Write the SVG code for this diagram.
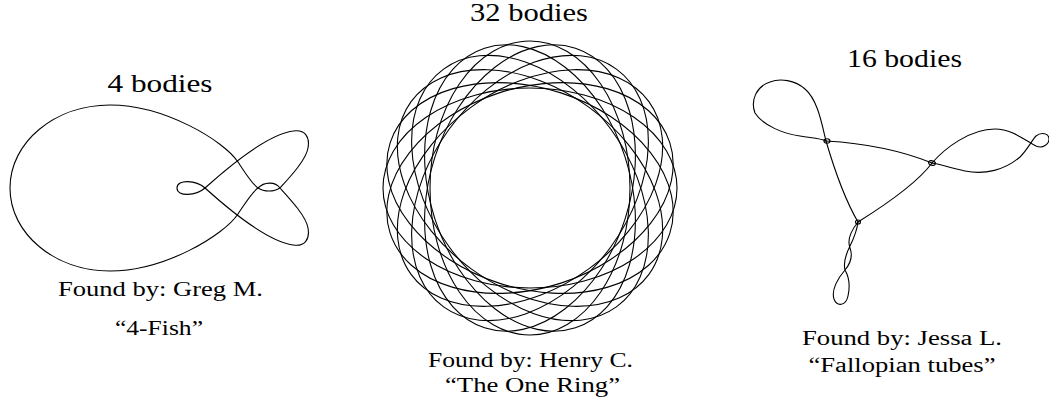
<svg xmlns="http://www.w3.org/2000/svg" width="1049" height="406" viewBox="0 0 1049 406">
<style>
.c{fill:none;stroke:#000;stroke-width:1.1;stroke-linejoin:round;stroke-linecap:round}
.t{font-family:"Liberation Serif","Times New Roman",serif;fill:#000;text-anchor:middle}
.h{font-size:25px}
.s{font-size:20px}
</style>
<rect width="1049" height="406" fill="#fff"/>
<g id="fish">
<path class="c" d="M205,188 C225,170 265,135 293,131 C305,129 310,137 308,148 C306,160 290,177 280,188 C274,192 264,192 258,188 C252,184 244,171 238,162 C224,141 165,105 110,105 C55,105 10,142 10,188 C10,234 55,271 110,271 C165,271 224,235 238,214 C244,205 252,192 258,188 C264,182 275,181 280,188 C290,199 306,216 308,228 C310,239 305,247 293,245 C265,241 225,206 205,188 C196,180 177,179 177,188 C177,197 196,196 205,188 Z"/>
<text class="t h" x="160" y="92" textLength="105" lengthAdjust="spacingAndGlyphs">4 bodies</text>
<text class="t s" x="160.5" y="296" textLength="205" lengthAdjust="spacingAndGlyphs">Found by: Greg M.</text>
<text class="t s" x="159" y="335" textLength="88" lengthAdjust="spacingAndGlyphs">“4-Fish”</text>
</g>
<g id="ring">
<defs><ellipse id="el" class="c" cx="530" cy="188" rx="147" ry="100"/></defs>
<use href="#el"/>
<use href="#el" transform="rotate(18 530 188)"/>
<use href="#el" transform="rotate(36 530 188)"/>
<use href="#el" transform="rotate(54 530 188)"/>
<use href="#el" transform="rotate(72 530 188)"/>
<use href="#el" transform="rotate(90 530 188)"/>
<use href="#el" transform="rotate(108 530 188)"/>
<use href="#el" transform="rotate(126 530 188)"/>
<use href="#el" transform="rotate(144 530 188)"/>
<use href="#el" transform="rotate(162 530 188)"/>
<text class="t h" x="529" y="21" textLength="118" lengthAdjust="spacingAndGlyphs">32 bodies</text>
<text class="t s" x="530.5" y="367" textLength="205" lengthAdjust="spacingAndGlyphs">Found by: Henry C.</text>
<text class="t s" x="532.5" y="392" textLength="175" lengthAdjust="spacingAndGlyphs">“The One Ring”</text>
</g>
<g id="tubes">
<path class="c" d="M826,141 C860,143 895,148 932,163"/>
<path class="c" d="M932,163 C945,148 970,129 995,129 C1012,129 1026,141 1036,146 C1043,149 1049,144 1049,139 C1049,133 1041,132 1036,136 C1032,140 1028,149 1020,157 C1005,170 985,175 965,171 C950,168 940,164 932,163"/>
<path class="c" d="M932,163 C918,182 890,202 858,222"/>
<path class="c" d="M858,222 C848,205 836,175 826,141"/>
<path class="c" d="M826,141 C822,125 818,100 805,89 C795,80 780,78 770,82 C757,86 750,100 755,113 C763,126 785,134 800,136 C812,138 820,138 826,141"/>
<path class="c" d="M858,222 C850,232 847,240 850,248 C853,256 850,264 845,270 C838,278 831,290 834,299 C837,307 846,306 848,296 C850,287 849,277 845,270 C843,262 846,254 850,246 C854,238 857,230 858,222"/>
<ellipse class="c" cx="827" cy="141" rx="3" ry="2.2"/>
<ellipse class="c" cx="932" cy="163" rx="3.5" ry="2.2" transform="rotate(15 932 163)"/>
<ellipse class="c" cx="858" cy="222" rx="2.5" ry="2"/>
<text class="t h" x="904.5" y="67" textLength="115" lengthAdjust="spacingAndGlyphs">16 bodies</text>
<text class="t s" x="902" y="345" textLength="200" lengthAdjust="spacingAndGlyphs">Found by: Jessa L.</text>
<text class="t s" x="902" y="372" textLength="187" lengthAdjust="spacingAndGlyphs">“Fallopian tubes”</text>
</g>
</svg>
